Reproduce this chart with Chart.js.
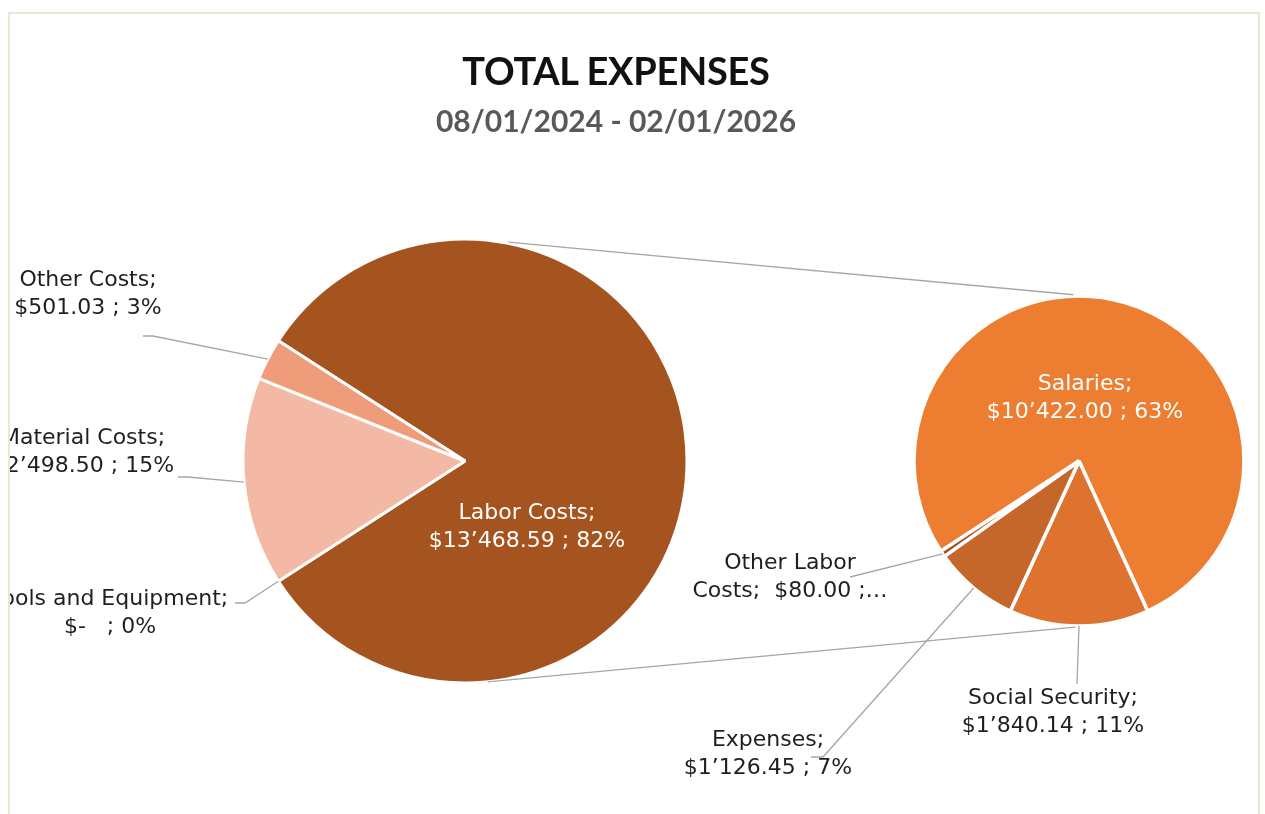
<!DOCTYPE html>
<html>
<head>
<meta charset="utf-8">
<title>Total Expenses</title>
<script src="https://cdn.jsdelivr.net/npm/chart.js@4.4.1/dist/chart.umd.min.js"></script>
<style>
  html, body { margin: 0; padding: 0; background: #fff; overflow: hidden; }
  #frame { position: absolute; left: 8px; top: 12px; width: 1248px; height: 900px; border: 2px solid #DDEED3; overflow: hidden; }
  #frame canvas { position: absolute; left: 0; top: 0; }
  .title { position: absolute; left: 0; width: 1212px; text-align: center; font-family: Lato, sans-serif; font-weight: 700; white-space: nowrap; }
  #t1 { top: 37px; font-size: 38px; line-height: 38px; color: #111; letter-spacing: -0.3px; }
  #t2 { top: 91px; font-size: 30px; line-height: 30px; color: #595959; }
</style>
</head>
<body>
<div id="frame">
  <canvas id="mainPie" width="1248" height="900"></canvas>
  <canvas id="laborPie" width="1248" height="900"></canvas>
  <div class="title" id="t1">TOTAL EXPENSES</div>
  <div class="title" id="t2">08/01/2024 - 02/01/2026</div>
</div>
<script>
// first pie: all expenses
const mainLabels = ['Labor Costs', 'Tools and Equipment', 'Material Costs', 'Other Costs'];
const mainValues = [13468.59, 0, 2498.50, 501.03];
const mainColors = ['#A5541F', '#A5541F', '#F4B9A4', '#EE9C7A'];

// second pie: breakdown of labor costs
const laborLabels = ['Salaries', 'Social Security', 'Expenses', 'Other Labor Costs'];
const laborValues = [10422.00, 1840.14, 1126.45, 80.00];
const laborColors = ['#ED7D31', '#DD732F', '#C5662A', '#A24F1C'];

const total = mainValues.reduce((a, b) => a + b, 0);

function money(v) {
  if (v === 0) return '$-  ';
  const parts = v.toFixed(2).split('.');
  return '$' + parts[0].replace(/\B(?=(\d{3})+(?!\d))/g, '\u2019') + '.' + parts[1];
}

function labelLines(name, v) {
  return [name + ';', money(v) + ' ; ' + Math.round(v / total * 100) + '%'];
}

// label offsets from the pie centre (px)
const mainPlacement = [
  { dx: 62, dy: 66, inside: true },
  { dx: -355, dy: 152, knee: [-220, 142], tail: [-230, 142] },
  { dx: -382, dy: -9, knee: [-277, 16], tail: [-287, 16] },
  { dx: -377, dy: -167, knee: [-312, -125], tail: [-322, -125] }
];
const laborPlacement = [
  { dx: 6, dy: -63, inside: true },
  { dx: -26, dy: 251, knee: [-2, 223] },
  { dx: -311, dy: 293, knee: [-256, 296], tail: [-268, 296] },
  { dx: -289, dy: 116, knee: [-229, 116], lines: ['Other Labor', 'Costs;  $80.00 ;\u2026'] }
];

const sliceLabels = {
  id: 'sliceLabels',
  afterDraw(chart, args, opts) {
    const ctx = chart.ctx;
    const meta = chart.getDatasetMeta(0);
    const data = chart.data.datasets[0].data;
    ctx.save();
    meta.data.forEach((arc, i) => {
      const p = opts.placement[i];
      const cx = arc.x, cy = arc.y;
      const lines = p.lines || labelLines(chart.data.labels[i], data[i]);
      if (!p.inside) {
        const mid = (arc.startAngle + arc.endAngle) / 2;
        ctx.beginPath();
        ctx.moveTo(cx + arc.outerRadius * Math.cos(mid), cy + arc.outerRadius * Math.sin(mid));
        ctx.lineTo(cx + p.knee[0], cy + p.knee[1]);
        if (p.tail) ctx.lineTo(cx + p.tail[0], cy + p.tail[1]);
        ctx.strokeStyle = '#A6A6A6';
        ctx.lineWidth = 1.3;
        ctx.stroke();
      }
      ctx.font = '22px "DejaVu Sans"';
      ctx.fillStyle = p.inside ? '#FFFFFF' : '#1F1F1F';
      ctx.textAlign = 'center';
      ctx.textBaseline = 'middle';
      lines.forEach((t, k) => {
        ctx.fillText(t, cx + p.dx, cy + p.dy + (k - (lines.length - 1) / 2) * 28);
      });
    });
    ctx.restore();
  }
};

const mainDeg = 360 * mainValues[0] / total;
const mainChart = new Chart(document.getElementById('mainPie'), {
  type: 'pie',
  data: {
    labels: mainLabels,
    datasets: [{ data: mainValues, backgroundColor: mainColors, borderColor: '#FFFFFF', borderWidth: 3 }]
  },
  options: {
    responsive: false,
    animation: false,
    rotation: 90 - mainDeg / 2,
    radius: 222,
    layout: { padding: { left: 0, right: 338, top: 0, bottom: 6 } },
    plugins: {
      legend: { display: false },
      tooltip: { enabled: false },
      sliceLabels: { placement: mainPlacement }
    }
  },
  plugins: [sliceLabels]
});

// lines joining the two pies (outer tangents)
const connectors = {
  id: 'connectors',
  afterDraw(chart) {
    const a = mainChart.getDatasetMeta(0).data[0];
    const b = chart.getDatasetMeta(0).data[0];
    const r1 = a.outerRadius, r2 = b.outerRadius;
    const s = (r1 - r2) / (b.x - a.x), c = Math.sqrt(1 - s * s);
    const ctx = chart.ctx;
    ctx.save();
    ctx.strokeStyle = '#A6A6A6';
    ctx.lineWidth = 1.3;
    [[-1, 23, 21], [1, 2, 19]].forEach(([side, trimA, trimB]) => {
      const x1 = a.x + r1 * s, y1 = a.y + side * r1 * c;
      const x2 = b.x + r2 * s, y2 = b.y + side * r2 * c;
      const len = Math.hypot(x2 - x1, y2 - y1);
      const ux = (x2 - x1) / len, uy = (y2 - y1) / len;
      ctx.beginPath();
      ctx.moveTo(x1 + ux * trimA, y1 + uy * trimA);
      ctx.lineTo(x2 - ux * trimB, y2 - uy * trimB);
      ctx.stroke();
    });
    ctx.restore();
  }
};

const laborTotal = laborValues.reduce((a, b) => a + b, 0);
const salDeg = 360 * laborValues[0] / laborTotal;
const ssDeg = 360 * laborValues[1] / laborTotal;
new Chart(document.getElementById('laborPie'), {
  type: 'pie',
  data: {
    labels: laborLabels,
    datasets: [{ data: laborValues, backgroundColor: laborColors, borderColor: '#FFFFFF', borderWidth: 3.5 }]
  },
  options: {
    responsive: false,
    animation: false,
    rotation: 180 - (salDeg + ssDeg / 2),
    radius: 165,
    layout: { padding: { left: 890, right: 0, top: 0, bottom: 6 } },
    plugins: {
      legend: { display: false },
      tooltip: { enabled: false },
      sliceLabels: { placement: laborPlacement }
    }
  },
  plugins: [sliceLabels, connectors]
});
</script>
</body>
</html>
